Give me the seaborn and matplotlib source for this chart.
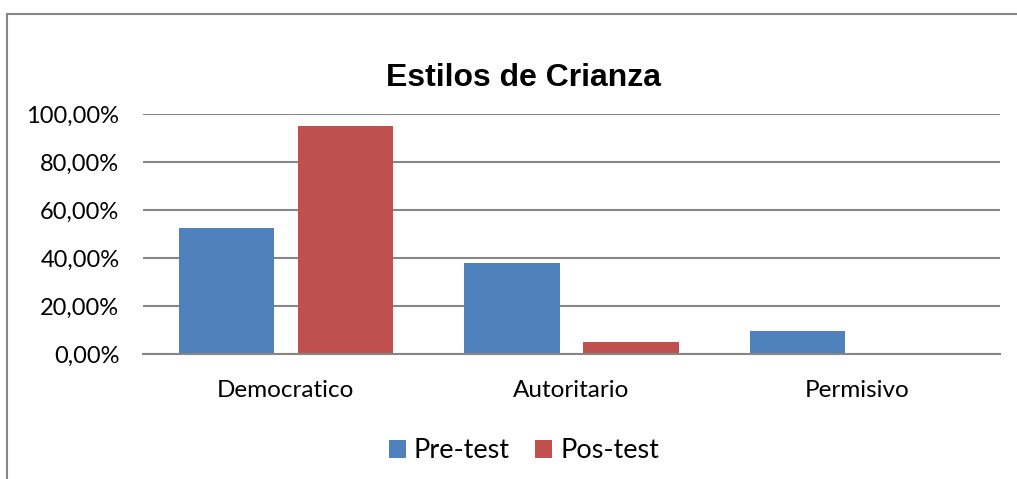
import matplotlib
matplotlib.use("Agg")
import matplotlib.pyplot as plt
import seaborn as sns
import pandas as pd
from matplotlib.patches import Rectangle, Patch
from matplotlib.ticker import FuncFormatter

categories = ["Democratico", "Autoritario", "Permisivo"]
pre_test = [52.4, 38.1, 9.5]
pos_test = [95.2, 4.8, 0.0]
series = ["Pre-test", "Pos-test"]
colors = ["#4F81BD", "#C0504D"]
yticks = [0, 20, 40, 60, 80, 100]

df = pd.DataFrame({
    "cat": categories * 2,
    "val": pre_test + pos_test,
    "serie": [series[0]] * 3 + [series[1]] * 3,
})

sns.set_style("white")
plt.rcParams['font.family'] = ['Lato', 'DejaVu Sans']
plt.rcParams['text.color'] = 'black'

fig = plt.figure(figsize=(10.17, 4.79), dpi=100)
ax = fig.add_axes([143/1017, 1 - 354/479, (1000-143)/1017, (354-114)/479])

sns.barplot(data=df, x="cat", y="val", hue="serie", palette=colors,
            width=0.833, gap=0.2, ax=ax, legend=False, saturation=1,
            linewidth=0)

ax.set_ylim(0, 100)
ax.set_xlim(-0.5, 2.5)
ax.set_yticks(yticks)
ax.yaxis.set_major_formatter(FuncFormatter(lambda v, p: f"{v:.2f}%".replace(".", ",")))
ax.grid(axis="y", color="#868686", linewidth=1.5)
ax.set_axisbelow(True)
for s in ["top", "right", "left"]:
    ax.spines[s].set_visible(False)
ax.spines["bottom"].set_color("#868686")
ax.spines["bottom"].set_linewidth(1.5)
ax.tick_params(axis="y", length=0, labelsize=17, colors="black", pad=17)
ax.tick_params(axis="x", length=0, labelsize=17.5, colors="black", pad=19)
ax.set_xlabel("")
ax.set_ylabel("")

fig.text(523/1017, 1 - 78/479, "Estilos de Crianza", ha="center", va="center",
         fontsize=23, fontweight="bold", color="black",
         family=["Liberation Sans", "DejaVu Sans"])

handles = [Patch(facecolor=c, edgecolor="none", label=l) for c, l in zip(colors, series)]
fig.legend(handles=handles, loc="center", bbox_to_anchor=(524/1017, 1 - 451/479),
           ncol=2, frameon=False, fontsize=19.5, handlelength=0.62, handleheight=0.62,
           handletextpad=0.3, columnspacing=0.93)

fig.patches.append(Rectangle((7/1017, -0.1), 1.2, 1 - 14/479 + 0.1, transform=fig.transFigure,
                             fill=False, edgecolor="#868686", linewidth=1.5))

fig.savefig("out.png", dpi=100)
